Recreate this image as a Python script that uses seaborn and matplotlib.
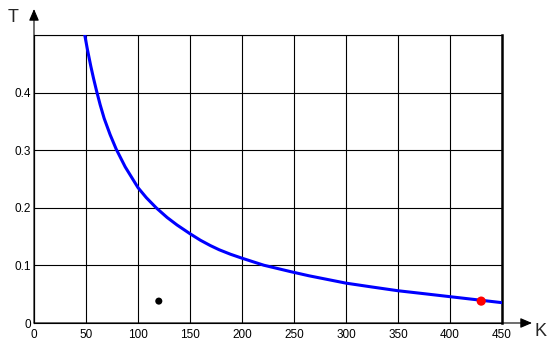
import matplotlib
matplotlib.use("Agg")
import matplotlib.pyplot as plt
import seaborn as sns
import pandas as pd

# Curve values
curve_K = [48.8, 51.4, 54.6, 57.2, 60, 63.6, 67.5, 73.2, 79, 87.7, 100, 108, 117.5, 128, 137.5, 150,
           160, 169.6, 178, 188.9, 200, 221, 246.7, 264.3, 300, 325, 350, 375, 400, 425, 450]
curve_T = [0.5, 0.4745, 0.446, 0.425, 0.404, 0.379, 0.355, 0.327, 0.302, 0.271, 0.235, 0.2176, 0.2, 0.1832, 0.1702, 0.155,
           0.1437, 0.1344, 0.1272, 0.1194, 0.1125, 0.1003, 0.0892, 0.082, 0.0692, 0.0625, 0.056, 0.0509, 0.0457, 0.0405, 0.0353]

# Marked points
black_K = [120]
black_T = [0.038]
red_K = [430]
red_T = [0.038]

x_ticks = [0, 50, 100, 150, 200, 250, 300, 350, 400, 450]
x_labels = ["0", "50", "100", "150", "200", "250", "300", "350", "400", "450"]
y_ticks = [0, 0.1, 0.2, 0.3, 0.4]
y_labels = ["0", "0.1", "0.2", "0.3", "0.4"]

sns.set_style("white")
plt.rcParams['font.family'] = ['Liberation Sans', 'DejaVu Sans']

W, H = 557, 362
fig = plt.figure(figsize=(W / 100, H / 100), dpi=100)
left, right, top, bottom = 34, 502, 35, 323
ax = fig.add_axes([left / W, 1 - bottom / H, (right - left) / W, (bottom - top) / H])

df = pd.DataFrame({"K": curve_K, "T": curve_T})
sns.lineplot(data=df, x="K", y="T", color=(0, 0, 1), linewidth=2.2, sort=False, ax=ax, zorder=3,
             solid_joinstyle="round")
sns.scatterplot(x=black_K, y=black_T, color="black", s=26, edgecolor="none", ax=ax, zorder=4)
sns.scatterplot(x=red_K, y=red_T, color=(1, 0, 0), s=44, edgecolor="none", ax=ax, zorder=4)

ax.set_xlim(0, 450)
ax.set_ylim(0, 0.5)
ax.set_xticks(x_ticks)
ax.set_xticklabels(x_labels)
ax.set_yticks(y_ticks + [0.5])
ax.set_yticklabels(y_labels + [""])
ax.tick_params(axis="both", length=0, labelsize=8.5, colors="black")
ax.tick_params(axis="x", pad=4)
ax.tick_params(axis="y", pad=2)
ax.set_xlabel("")
ax.set_ylabel("")
ax.grid(True, color="black", linewidth=0.8)
ax.set_axisbelow(True)

for name, sp in ax.spines.items():
    sp.set_visible(True)
    sp.set_color("black")
    sp.set_linewidth(0.8)
ax.spines["right"].set_linewidth(1.8)

# Axis arrows
w_px, h_px = right - left, bottom - top
ax.annotate("", xy=((532 - left) / w_px, 0), xytext=(0, 0), xycoords="axes fraction",
            arrowprops=dict(arrowstyle="-|>,head_length=0.7,head_width=0.3", color="black",
                            lw=0.8, shrinkA=0, shrinkB=0, mutation_scale=10),
            annotation_clip=False)
ax.annotate("", xy=(0, (bottom - 9) / h_px), xytext=(0, 0), xycoords="axes fraction",
            arrowprops=dict(arrowstyle="-|>,head_length=0.7,head_width=0.3", color="black",
                            lw=0.8, shrinkA=0, shrinkB=0, mutation_scale=10),
            annotation_clip=False)

fig.text(13 / W, 1 - 17 / H, "T", fontsize=13, ha="center", va="center")
fig.text(541 / W, 1 - 331 / H, "K", fontsize=13, ha="center", va="center")

fig.savefig("out.png", dpi=100)
